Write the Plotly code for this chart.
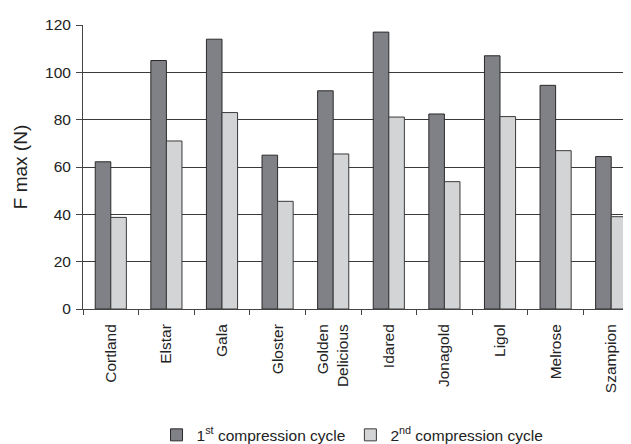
import plotly.graph_objects as go

categories = ["Cortland", "Elstar", "Gala", "Gloster", "Golden<br>Delicious",
              "Idared", "Jonagold", "Ligol", "Melrose", "Szampion"]
cycle1 = [62.2, 105, 114, 65, 92.2, 117, 82.4, 107, 94.5, 64.4]
cycle2 = [38.7, 71, 83, 45.5, 65.5, 81.1, 53.8, 81.3, 66.9, 39]
series_names = ["1<sup>st</sup> compression cycle", "2<sup>nd</sup> compression cycle"]
y_ticks = [0, 20, 40, 60, 80, 100, 120]

FONT = "Liberation Sans, Arial, sans-serif"

fig = go.Figure()
fig.add_trace(go.Bar(x=categories, y=cycle1, name=series_names[0],
                     marker=dict(color="#808186", line=dict(color="#2a2a2a", width=1))))
fig.add_trace(go.Bar(x=categories, y=cycle2, name=series_names[1],
                     marker=dict(color="#d3d4d6", line=dict(color="#3a3a3a", width=1))))

fig.update_layout(
    width=623, height=436,
    margin=dict(l=75, r=0, t=17, b=135, autoexpand=False),
    paper_bgcolor="white", plot_bgcolor="white",
    font=dict(family=FONT, size=15.5, color="#222222"),
    barmode="group", bargap=0.44, bargroupgap=0,
    showlegend=True,
    legend=dict(orientation="h", xref="container", x=0.553, xanchor="center",
                yref="container", y=0.02, yanchor="middle",
                font=dict(size=15.5), itemwidth=30, traceorder="normal"),
    xaxis=dict(type="category", range=[-0.5, 9.356], showline=True, linecolor="#444444",
               linewidth=1, ticks="outside", tickson="boundaries", ticklen=5,
               tickcolor="#444444", tickangle=-90, showgrid=False, automargin=False,
               ticklabelstandoff=8),
    yaxis=dict(range=[0, 120], tickvals=y_ticks, showline=True, linecolor="#444444",
               linewidth=1, ticks="outside", ticklen=6, tickcolor="#444444",
               showgrid=True, gridcolor="#3a3a3a", gridwidth=1, zeroline=False,
               automargin=False, ticklabelstandoff=2,
               title=dict(text="F max (N)", standoff=12)),
)

fig.write_html("out.html")
